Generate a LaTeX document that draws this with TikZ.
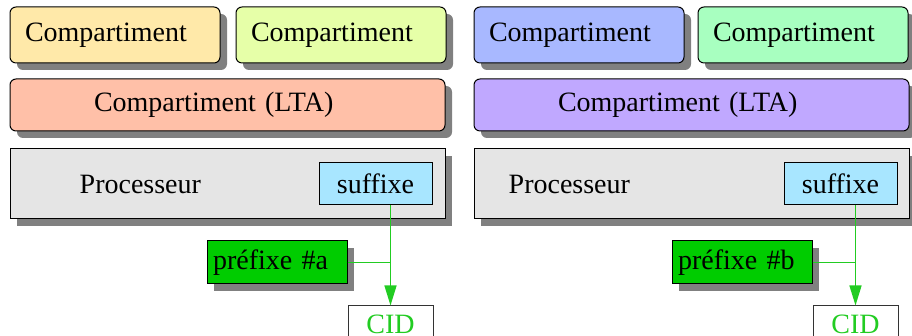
\documentclass[tikz,border=0pt]{standalone}
\usepackage{fontspec}
\setmainfont{Liberation Serif}
\usetikzlibrary{arrows.meta, positioning, shadows}

\definecolor{compAa}{HTML}{FFE9A9}
\definecolor{compAb}{HTML}{E6FFA8}
\definecolor{ltaA}{HTML}{FFC0A8}
\definecolor{compBa}{HTML}{A8B8FF}
\definecolor{compBb}{HTML}{A8FFC0}
\definecolor{ltaB}{HTML}{C0A8FF}
\definecolor{procgray}{HTML}{E5E5E5}
\definecolor{sufblue}{HTML}{A8E6FF}
\definecolor{prefgreen}{HTML}{00CC00}
\definecolor{cidgreen}{HTML}{22CC22}

\begin{document}
\begin{tikzpicture}[
  x=1pt, y=1pt,
  font=\fontsize{28}{34}\selectfont,
  shadowed/.style={drop shadow={shadow xshift=7pt, shadow yshift=-7pt, fill=black!50, opacity=1}},
  comp/.style={draw, line width=1pt, rounded corners=6pt, shadowed, align=left,
    text width=180pt, inner xsep=15pt, inner ysep=0pt, minimum height=56pt},
  lta/.style={draw, line width=1pt, rounded corners=6pt, shadowed, align=left,
    text width=267pt, inner xsep=84pt, inner ysep=0pt, minimum height=52pt},
  proc/.style={draw, line width=1pt, shadowed, fill=procgray, minimum width=435pt, minimum height=70pt},
  suf/.style={draw, line width=1pt, fill=sufblue, minimum width=113pt, minimum height=42pt, inner sep=0pt},
  pref/.style={draw, line width=1pt, shadowed, fill=prefgreen, align=left,
    text width=128pt, inner xsep=6pt, inner ysep=0pt, minimum height=43pt},
  cid/.style={draw=black!80, line width=1pt, fill=white, text=cidgreen, minimum width=85pt, minimum height=42pt,
    text height=18.5pt, text depth=5.5pt, inner sep=0pt},
  link/.style={draw=cidgreen, line width=1.3pt},
  >={Triangle[length=20pt, width=12pt]}
]
\useasboundingbox (0,0) rectangle (912,336);

% groupe a
\node[comp, fill=compAa] (compa1) at (115,301) {Compartiment};
\node[comp, fill=compAb, right=15pt of compa1] (compa2) {Compartiment};
\node[lta, fill=ltaA, below right=15pt and 0pt of compa1.south west] (ltaa) {Compartiment (LTA)};
\node[proc, below=17pt of ltaa] (proca) {};
\node[inner sep=0pt, right=70pt of proca.west] (ptexta) {Processeur};
\node[suf, anchor=north east] (sufa) at ([xshift=-13pt, yshift=-14pt]proca.north east) {suffixe};
\node[pref, below left=21pt and 98pt of proca.south east] (prefa) {préfixe \#a};
\node[cid, below right=21pt and 0pt of prefa.south east] (cida) {CID};
\draw[link, ->] (sufa.south -| cida.north) -- (cida.north);
\draw[link] (prefa.east) -- (prefa.east -| cida.north);

% groupe b
\node[comp, fill=compBa] (compb1) at (579,301) {Compartiment};
\node[comp, fill=compBb, right=13pt of compb1] (compb2) {Compartiment};
\node[lta, fill=ltaB, below right=15pt and 0pt of compb1.south west] (ltab) {Compartiment (LTA)};
\node[proc, below=17pt of ltab] (procb) {};
\node[inner sep=0pt, right=35pt of procb.west] (ptextb) {Processeur};
\node[suf, anchor=north east] (sufb) at ([xshift=-12pt, yshift=-14pt]procb.north east) {suffixe};
\node[pref, below left=21pt and 97pt of procb.south east] (prefb) {préfixe \#b};
\node[cid, below right=21pt and 0pt of prefb.south east] (cidb) {CID};
\draw[link, ->] (sufb.south -| cidb.north) -- (cidb.north);
\draw[link] (prefb.east) -- (prefb.east -| cidb.north);
\end{tikzpicture}
\end{document}
